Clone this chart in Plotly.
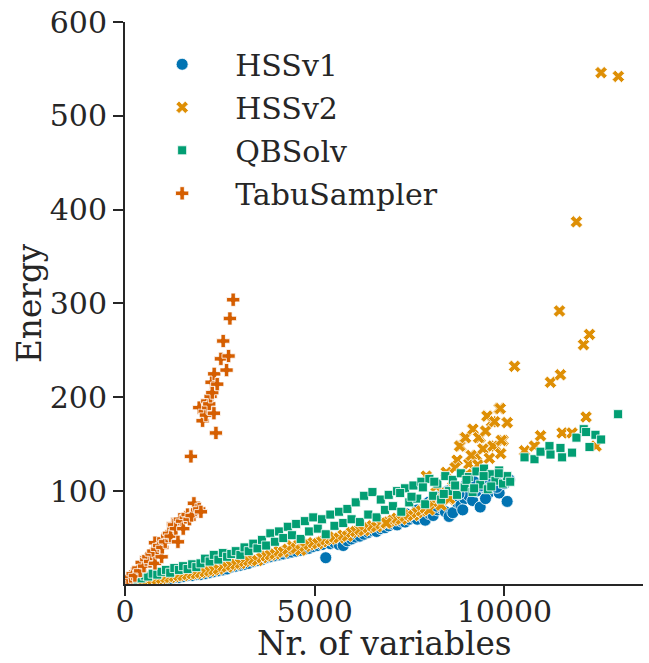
import plotly.graph_objects as go

# ---------------- data ----------------
# instance sizes shared by the three main solvers
n_vars = [120, 210, 340, 430, 520, 610, 730, 850, 960, 1080, 1190, 1300, 1420, 1530, 1650,
          1770, 1880, 1990, 2110, 2230, 2340, 2460, 2580, 2690, 2800, 2920, 3040, 3150, 3260,
          3380, 3490, 3610, 3720, 3830, 3950, 4060, 4170, 4290, 4400, 4510, 4630, 4740, 4850,
          4960, 5080, 5190, 5290, 5410, 5520, 5640, 5750, 5860, 5970, 6080, 6190, 6300, 6410,
          6520, 6630, 6740, 6850, 6950, 7060, 7170, 7280, 7380, 7490, 7600, 7700, 7810, 7910,
          8020, 8120, 8230, 8330, 8440, 8540, 8640, 8750, 8850, 8950, 9060, 9160, 9260, 9360,
          9460, 9560, 9660, 9760, 9860, 9960, 10070]

hss1_energy = [1, 2, 2, 3, 4, 4, 5, 5, 6, 7, 7, 8, 8, 9, 10,
               10, 11, 11, 12, 13, 14, 15, 16, 17, 19, 20, 21, 22, 23,
               25, 26, 27, 29, 30, 31, 32, 33, 34, 35, 36, 37, 38, 39,
               41, 42, 43, 29, 44, 45, 43, 42, 47, 49, 51, 52, 54, 56,
               58, 57, 60, 61, 63, 65, 64, 68, 67, 70, 72, 70, 74, 69,
               76, 74, 80, 82, 78, 73, 77, 88, 85, 92, 95, 90, 100, 83,
               104, 97, 108, 112, 98, 115, 89]

hss2_energy = [2, 3, 3, 4, 5, 5, 6, 6, 7, 8, 8, 9, 10, 10, 11,
               12, 12, 13, 14, 15, 16, 17, 20, 19, 21, 22, 23, 25, 26,
               27, 26, 29, 31, 32, 33, 36, 35, 38, 42, 39, 37, 41, 43,
               45, 44, 46, 48, 49, 51, 50, 53, 52, 56, 57, 59, 58, 61,
               63, 62, 65, 66, 67, 69, 71, 70, 73, 75, 74, 77, 79, 82,
               80, 88, 93, 85, 98, 91, 105, 133, 148, 157, 129, 166, 138, 157,
               145, 180, 174, 148, 188, 154, 173]

qbsolv_energy = [4, 6, 8, 7, 10, 9, 12, 11, 14, 16, 13, 18, 16, 20, 17,
                 22, 19, 23, 28, 25, 32, 27, 34, 30, 33, 36, 32, 40, 36,
                 44, 39, 48, 42, 55, 46, 57, 50, 62, 53, 65, 49, 68, 57,
                 72, 60, 70, 54, 75, 63, 78, 66, 81, 70, 88, 67, 95, 75,
                 99, 72, 91, 80, 96, 84, 100, 78, 103, 88, 106, 92, 110, 86,
                 113, 95, 108, 91, 116, 100, 112, 96, 119, 104, 115, 99, 121, 107,
                 124, 102, 118, 111, 122, 108, 116]

# additional runs / larger instances
hss1_extra_x = [7400, 7700, 8000, 8200, 8300, 8500, 8800, 8900, 9000, 9200, 9400, 9500, 9600, 9800, 10000, 10130]
hss1_extra_y = [76, 80, 88, 84, 95, 100, 97, 80, 108, 110, 106, 92, 113, 104, 108, 112]

hss2_extra_x = [6886, 7940, 8200, 8465, 8554, 8700, 8817, 8975, 9000, 9124, 9168, 9300, 9317, 9431, 9501,
                9537, 9600, 9694, 9739, 9888, 9900, 9915, 10072, 10265, 10528, 10790, 10950, 11212,
                11449, 11475, 11518, 11780, 11896, 12082, 12150, 12240, 12414, 12545, 13000]
hss2_extra_y = [66, 116, 105, 120, 92, 125, 148, 157, 118, 138, 166, 128, 157, 145, 164,
                180, 135, 148, 174, 188, 140, 154, 173, 233, 143, 148, 159, 216,
                292, 224, 162, 162, 387, 256, 179, 267, 148, 546, 542]

qbsolv_extra_x = [7250, 7550, 7850, 8150, 8400, 8700, 9000, 9200, 9450, 9650, 9850, 10150,
                  10528, 10790, 10950, 11185, 11212, 11475, 11518, 11780, 11896, 12088, 12150,
                  12240, 12397, 12546, 12993]
qbsolv_extra_y = [98, 94, 104, 110, 97, 106, 112, 103, 116, 105, 119, 110,
                  136, 134, 142, 148, 139, 146, 136, 141, 157, 166, 163,
                  147, 160, 155, 182]

tabu_x = [40, 80, 150, 202, 260, 351, 400, 439, 500, 560, 614, 660, 700, 746, 790, 790, 850,
          900, 965, 983, 1009, 1060, 1110, 1160, 1202, 1263, 1290, 1340, 1395, 1447, 1500, 1535,
          1600, 1650, 1700, 1754, 1816, 1900, 1956, 2000,
          1737, 1956, 2044, 2100, 2132, 2167, 2193, 2220, 2255, 2281, 2300, 2343, 2351, 2396,
          2430, 2527, 2588, 2676, 2729, 2764, 2851]
tabu_energy = [3, 7, 9, 12, 10, 18, 15, 24, 20, 27, 30, 25, 33, 36, 45, 23, 38,
               42, 30, 40, 49, 46, 52, 55, 52, 65, 64, 60, 46, 70, 68, 60,
               72, 75, 70, 74, 87, 80, 81, 78,
               137, 189, 175, 185, 181, 196, 189, 193, 201, 216, 205, 183, 225, 162,
               214, 241, 260, 229, 244, 284, 304]

x_ticks = [0, 5000, 10000]
x_tick_labels = ["0", "5000", "10000"]
y_ticks = [100, 200, 300, 400, 500, 600]
y_tick_labels = ["100", "200", "300", "400", "500", "600"]

# ---------------- figure ----------------
INK = "#262626"
FONT = "DejaVu Serif"
FS = 30        # tick labels and legend
FS_LABEL = 32.7  # axis titles

series = [
    ("HSSv1", n_vars + hss1_extra_x, hss1_energy + hss1_extra_y, "circle", "#0173b2", 12),
    ("HSSv2", n_vars + hss2_extra_x, hss2_energy + hss2_extra_y, "x", "#de8f05", 11),
    ("QBSolv", n_vars + qbsolv_extra_x, qbsolv_energy + qbsolv_extra_y, "square", "#029e73", 9),
    ("TabuSampler", tabu_x, tabu_energy, "cross", "#d55e00", 11),
]

fig = go.Figure()
for name, xs, ys, sym, col, sz in series:
    fig.add_trace(go.Scatter(
        x=xs, y=ys, mode="markers", name=name, legendgroup=name,
        marker=dict(symbol=sym, color=col, size=sz, line=dict(color="white", width=0.8)),
    ))

axis_common = dict(
    showline=True, linewidth=2, linecolor=INK, mirror=False,
    ticks="outside", ticklen=10, tickwidth=2, tickcolor=INK,
    showgrid=False, zeroline=False, automargin=False,
    tickfont=dict(family=FONT, size=FS, color=INK),
)

fig.update_layout(
    width=649, height=663,
    margin=dict(l=125, r=6, t=22, b=79, autoexpand=False),
    paper_bgcolor="white", plot_bgcolor="white",
    font=dict(family=FONT, color=INK, size=FS),
    xaxis=dict(range=[0, 13650], tickvals=x_ticks, ticktext=x_tick_labels,
               ticklabelstandoff=-10, **axis_common),
    yaxis=dict(range=[1, 600], tickvals=y_ticks, ticktext=y_tick_labels,
               **axis_common),
    annotations=[
        dict(text="Nr. of variables", xref="paper", yref="paper", x=0.5, y=-0.107,
             xanchor="center", yanchor="middle", showarrow=False,
             font=dict(family=FONT, size=FS_LABEL, color=INK)),
        dict(text="Energy", xref="paper", yref="paper", x=-0.1834, y=0.5,
             xanchor="center", yanchor="middle", showarrow=False, textangle=-90,
             font=dict(family=FONT, size=FS_LABEL, color=INK)),
    ],
    showlegend=True,
    legend=dict(x=0.008, y=0.971, xanchor="left", yanchor="top",
                bgcolor="rgba(0,0,0,0)", borderwidth=0,
                font=dict(family=FONT, size=FS, color=INK),
                tracegroupgap=1, itemsizing="trace", itemwidth=96),
)

fig.write_html("out.html", config={"displayModeBar": False},
               post_script="document.body.style.margin='0px';")
